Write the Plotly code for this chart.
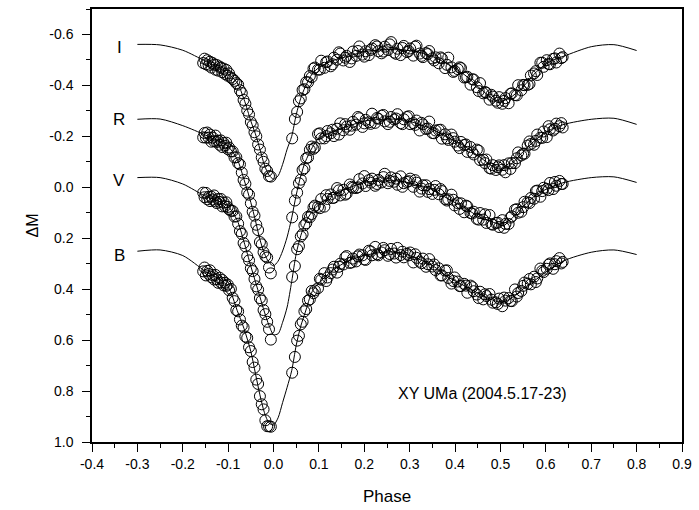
import plotly.graph_objects as go

# ---------------------------------------------------------------------------
# Data (phase vs. differential magnitude)
# ---------------------------------------------------------------------------

# model light-curve phases and fitted magnitudes
model_phase = [-0.30, -0.25, -0.20, -0.15, -0.12, -0.10, -0.08, -0.065, -0.05, -0.04,
               -0.03, -0.02, -0.01, 0.0, 0.01, 0.02, 0.03, 0.04, 0.05, 0.06,
               0.07, 0.085, 0.10, 0.13, 0.165, 0.20, 0.24, 0.275, 0.31, 0.35,
               0.385, 0.42, 0.455, 0.485, 0.50, 0.52, 0.55, 0.58, 0.61, 0.64,
               0.70, 0.75, 0.80]
model_I = [-0.561, -0.559, -0.538, -0.495, -0.468, -0.445, -0.41, -0.345, -0.26, -0.21,
           -0.15, -0.087, -0.048, -0.032, -0.045, -0.09, -0.15, -0.2, -0.285, -0.35,
           -0.395, -0.445, -0.47, -0.497, -0.515, -0.532, -0.54, -0.54, -0.534, -0.514,
           -0.482, -0.443, -0.388, -0.345, -0.338, -0.35, -0.395, -0.455, -0.495, -0.515,
           -0.552, -0.56, -0.537]
model_R = [-0.267, -0.268, -0.242, -0.205, -0.18, -0.16, -0.11, -0.03, 0.06, 0.13,
           0.205, 0.26, 0.295, 0.308, 0.29, 0.25, 0.195, 0.12, 0.03, -0.045,
           -0.10, -0.155, -0.193, -0.217, -0.24, -0.26, -0.267, -0.267, -0.254, -0.227,
           -0.195, -0.163, -0.118, -0.08, -0.071, -0.085, -0.14, -0.19, -0.226, -0.247,
           -0.267, -0.271, -0.247]
model_V = [-0.038, -0.038, -0.013, 0.035, 0.055, 0.075, 0.13, 0.215, 0.31, 0.37,
           0.43, 0.49, 0.542, 0.578, 0.575, 0.53, 0.47, 0.37, 0.26, 0.19,
           0.14, 0.095, 0.068, 0.03, 0.003, -0.019, -0.025, -0.025, -0.013, 0.008,
           0.046, 0.079, 0.118, 0.138, 0.145, 0.13, 0.075, 0.028, 0.0, -0.019,
           -0.038, -0.041, -0.019]
model_B = [0.251, 0.246, 0.268, 0.33, 0.36, 0.39, 0.484, 0.555, 0.645, 0.73,
           0.815, 0.885, 0.925, 0.933, 0.905, 0.845, 0.785, 0.72, 0.62, 0.545,
           0.49, 0.41, 0.375, 0.327, 0.288, 0.268, 0.255, 0.255, 0.275, 0.307,
           0.353, 0.386, 0.42, 0.444, 0.451, 0.44, 0.399, 0.36, 0.32, 0.288,
           0.255, 0.246, 0.264]

# observed phases, first set (shared by the four bands)
obs_phase = [-0.155, -0.152, -0.149, -0.146, -0.143, -0.140, -0.137, -0.134, -0.131, -0.128,
             -0.125, -0.122, -0.119, -0.116, -0.113, -0.110, -0.107, -0.104, -0.101, -0.098,
             -0.094, -0.090, -0.086, -0.082, -0.078, -0.074, -0.070, -0.066, -0.062, -0.058,
             -0.054, -0.050, -0.046, -0.042, -0.038, -0.034, -0.030, -0.026, -0.022, -0.018,
             -0.014, -0.010, -0.006,
             0.041, 0.047, 0.052, 0.056, 0.060, 0.064, 0.068, 0.072, 0.076, 0.080,
             0.084, 0.091, 0.098, 0.105, 0.112, 0.119, 0.126, 0.133, 0.140, 0.147,
             0.154, 0.161, 0.168, 0.175, 0.182, 0.189, 0.196, 0.203, 0.210, 0.217,
             0.224, 0.231, 0.238, 0.245, 0.252, 0.259, 0.266, 0.273, 0.280, 0.287,
             0.294, 0.301, 0.308, 0.315, 0.322, 0.329, 0.336, 0.343, 0.350, 0.357,
             0.364, 0.371, 0.378, 0.385, 0.392, 0.399, 0.406, 0.413, 0.420, 0.427,
             0.434, 0.441, 0.448, 0.455, 0.462, 0.469, 0.476, 0.483, 0.490, 0.497,
             0.504, 0.511, 0.518, 0.525, 0.532, 0.539, 0.546, 0.553, 0.560, 0.567,
             0.574, 0.581, 0.588, 0.595, 0.602, 0.609, 0.616, 0.623, 0.630, 0.637]

obs_I = [-0.488, -0.505, -0.483, -0.499, -0.478, -0.493, -0.470, -0.488, -0.481, -0.462,
         -0.480, -0.458, -0.474, -0.469, -0.452, -0.466, -0.445, -0.461, -0.438, -0.447,
         -0.431, -0.425, -0.418, -0.409, -0.403, -0.381, -0.370, -0.343, -0.328, -0.301,
         -0.286, -0.256, -0.243, -0.216, -0.200, -0.168, -0.148, -0.117, -0.100, -0.073,
         -0.064, -0.044, -0.042,
         -0.192, -0.268, -0.296, -0.338, -0.349, -0.382, -0.385, -0.413, -0.412, -0.437,
         -0.432, -0.470, -0.462, -0.497, -0.469, -0.494, -0.475, -0.509, -0.501, -0.525,
         -0.498, -0.516, -0.492, -0.533, -0.516, -0.553, -0.521, -0.534, -0.519, -0.545,
         -0.558, -0.534, -0.526, -0.552, -0.539, -0.570, -0.529, -0.544, -0.519, -0.555,
         -0.531, -0.545, -0.517, -0.556, -0.525, -0.511, -0.527, -0.535, -0.506, -0.510,
         -0.487, -0.506, -0.468, -0.509, -0.471, -0.457, -0.464, -0.468, -0.431, -0.434,
         -0.403, -0.423, -0.393, -0.409, -0.369, -0.371, -0.344, -0.356, -0.340, -0.354,
         -0.328, -0.350, -0.330, -0.369, -0.362, -0.401, -0.381, -0.401, -0.402, -0.439,
         -0.447, -0.441, -0.489, -0.473, -0.499, -0.483, -0.504, -0.490, -0.525, -0.511]

obs_R = [-0.196, -0.213, -0.195, -0.215, -0.195, -0.207, -0.179, -0.195, -0.181, -0.203,
         -0.178, -0.183, -0.167, -0.184, -0.158, -0.174, -0.163, -0.175, -0.150, -0.156,
         -0.141, -0.141, -0.117, -0.118, -0.095, -0.090, -0.058, -0.029, -0.014, 0.021,
         0.029, 0.063, 0.096, 0.111, 0.147, 0.168, 0.215, 0.224, 0.255, 0.270,
         0.276, 0.315, 0.338,
         0.118, 0.052, 0.021, -0.016, -0.030, -0.068, -0.075, -0.114, -0.117, -0.147,
         -0.160, -0.156, -0.209, -0.192, -0.192, -0.221, -0.212, -0.201, -0.230, -0.251,
         -0.224, -0.238, -0.226, -0.257, -0.246, -0.271, -0.237, -0.265, -0.255, -0.289,
         -0.253, -0.269, -0.281, -0.259, -0.248, -0.276, -0.266, -0.287, -0.252, -0.267,
         -0.276, -0.248, -0.252, -0.262, -0.223, -0.247, -0.229, -0.258, -0.213, -0.223,
         -0.225, -0.191, -0.208, -0.186, -0.207, -0.179, -0.164, -0.178, -0.166, -0.139,
         -0.158, -0.129, -0.148, -0.107, -0.108, -0.109, -0.075, -0.087, -0.068, -0.086,
         -0.069, -0.059, -0.094, -0.095, -0.095, -0.137, -0.125, -0.132, -0.164, -0.170,
         -0.167, -0.207, -0.195, -0.219, -0.197, -0.228, -0.223, -0.250, -0.240, -0.235]

obs_V = [0.021, 0.039, 0.022, 0.047, 0.037, 0.054, 0.037, 0.048, 0.032, 0.055,
         0.062, 0.046, 0.057, 0.046, 0.075, 0.060, 0.074, 0.059, 0.077, 0.087,
         0.092, 0.093, 0.115, 0.114, 0.143, 0.172, 0.183, 0.219, 0.232, 0.271,
         0.287, 0.318, 0.329, 0.360, 0.389, 0.402, 0.435, 0.445, 0.482, 0.498,
         0.528, 0.557, 0.598,
         0.352, 0.309, 0.243, 0.231, 0.193, 0.184, 0.149, 0.141, 0.116, 0.118,
         0.105, 0.072, 0.077, 0.046, 0.076, 0.046, 0.028, 0.041, 0.003, 0.032,
         0.010, 0.025, -0.011, 0.002, 0.003, -0.032, -0.015, -0.005, -0.028, -0.034,
         -0.006, -0.029, -0.019, -0.053, -0.016, -0.039, -0.022, -0.010, -0.043, -0.016,
         -0.021, -0.034, -0.002, -0.018, 0.017, -0.008, -0.008, 0.007, 0.026, -0.005,
         0.027, 0.015, 0.046, 0.047, 0.029, 0.071, 0.062, 0.063, 0.098, 0.075,
         0.101, 0.096, 0.124, 0.101, 0.127, 0.140, 0.109, 0.147, 0.140, 0.156,
         0.129, 0.144, 0.144, 0.114, 0.088, 0.100, 0.096, 0.057, 0.059, 0.042,
         0.045, 0.013, 0.037, 0.002, 0.006, -0.017, 0.007, -0.006, -0.025, -0.013]

obs_B = [0.330, 0.315, 0.346, 0.328, 0.340, 0.326, 0.353, 0.345, 0.362, 0.344,
         0.361, 0.375, 0.355, 0.374, 0.364, 0.385, 0.375, 0.387, 0.382, 0.404,
         0.399, 0.434, 0.447, 0.482, 0.487, 0.519, 0.543, 0.550, 0.586, 0.591,
         0.628, 0.643, 0.686, 0.708, 0.755, 0.772, 0.820, 0.852, 0.872, 0.915,
         0.938, 0.938, 0.940,
         0.728, 0.666, 0.602, 0.583, 0.538, 0.528, 0.487, 0.478, 0.445, 0.440,
         0.407, 0.405, 0.396, 0.363, 0.337, 0.354, 0.337, 0.312, 0.335, 0.300,
         0.303, 0.270, 0.297, 0.280, 0.291, 0.264, 0.267, 0.285, 0.249, 0.267,
         0.234, 0.267, 0.256, 0.247, 0.269, 0.242, 0.260, 0.238, 0.266, 0.275,
         0.261, 0.256, 0.295, 0.277, 0.292, 0.280, 0.312, 0.282, 0.311, 0.325,
         0.318, 0.346, 0.327, 0.356, 0.378, 0.354, 0.370, 0.388, 0.379, 0.414,
         0.386, 0.408, 0.421, 0.410, 0.440, 0.427, 0.419, 0.453, 0.452, 0.437,
         0.467, 0.445, 0.435, 0.447, 0.401, 0.415, 0.407, 0.374, 0.379, 0.381,
         0.351, 0.358, 0.319, 0.333, 0.320, 0.299, 0.320, 0.290, 0.278, 0.293]

# second set of observed phases (out-of-eclipse part only)
obs_phase2 = [0.088, 0.102, 0.116, 0.130, 0.144, 0.158, 0.172, 0.186, 0.200, 0.214,
              0.228, 0.242, 0.256, 0.270, 0.284, 0.298, 0.312, 0.326, 0.340, 0.354,
              0.368, 0.382, 0.396, 0.410, 0.424, 0.438, 0.452, 0.466, 0.480, 0.494,
              0.508, 0.522, 0.536, 0.550, 0.564, 0.578, 0.592, 0.606, 0.620, 0.634]
obs_I2 = [-0.466, -0.462, -0.491, -0.483, -0.530, -0.509, -0.506, -0.535, -0.513, -0.539,
          -0.553, -0.533, -0.561, -0.524, -0.547, -0.535, -0.552, -0.516, -0.523, -0.498,
          -0.510, -0.481, -0.453, -0.471, -0.432, -0.424, -0.378, -0.374, -0.363, -0.332,
          -0.339, -0.367, -0.361, -0.402, -0.406, -0.456, -0.489, -0.484, -0.506, -0.507]
obs_R2 = [-0.151, -0.212, -0.201, -0.226, -0.207, -0.248, -0.242, -0.276, -0.251, -0.249,
          -0.272, -0.284, -0.257, -0.270, -0.248, -0.279, -0.245, -0.253, -0.231, -0.212,
          -0.226, -0.192, -0.193, -0.154, -0.168, -0.137, -0.144, -0.095, -0.073, -0.079,
          -0.087, -0.072, -0.114, -0.132, -0.180, -0.182, -0.194, -0.240, -0.230, -0.252]
obs_V2 = [0.079, 0.082, 0.031, 0.042, 0.012, 0.029, -0.002, 0.000, -0.044, -0.018,
          -0.013, -0.040, -0.025, -0.034, -0.002, -0.024, -0.028, 0.005, 0.018, 0.010,
          0.007, 0.052, 0.049, 0.085, 0.072, 0.103, 0.127, 0.106, 0.144, 0.139,
          0.159, 0.119, 0.086, 0.078, 0.062, 0.015, 0.015, 0.011, -0.021, -0.013]
obs_B2 = [0.416, 0.359, 0.368, 0.323, 0.312, 0.275, 0.295, 0.271, 0.283, 0.252,
          0.263, 0.238, 0.262, 0.276, 0.253, 0.267, 0.263, 0.298, 0.302, 0.303,
          0.346, 0.326, 0.368, 0.388, 0.386, 0.392, 0.435, 0.420, 0.441, 0.458,
          0.433, 0.446, 0.429, 0.387, 0.360, 0.372, 0.328, 0.304, 0.302, 0.299]

band_names = ["I", "R", "V", "B"]
band_label_y = [-0.55, -0.265, -0.025, 0.268]

x_ticks = [-0.4, -0.3, -0.2, -0.1, 0.0, 0.1, 0.2, 0.3, 0.4, 0.5, 0.6, 0.7, 0.8, 0.9]
y_ticks = [-0.6, -0.4, -0.2, 0.0, 0.2, 0.4, 0.6, 0.8, 1.0]

FONT = "Liberation Sans, Arial, sans-serif"

fig = go.Figure()

bands = [
    (obs_I, obs_I2, model_I),
    (obs_R, obs_R2, model_R),
    (obs_V, obs_V2, model_V),
    (obs_B, obs_B2, model_B),
]
for obs, obs2, model in bands:
    fig.add_trace(go.Scatter(
        x=obs_phase + obs_phase2, y=obs + obs2, mode="markers",
        marker=dict(symbol="circle-open", size=11, color="black", line=dict(width=1, color="black")),
        showlegend=False, hoverinfo="skip",
    ))
    fig.add_trace(go.Scatter(
        x=model_phase, y=model, mode="lines",
        line=dict(color="black", width=1, shape="spline", smoothing=0.8),
        showlegend=False, hoverinfo="skip",
    ))

# band labels
for name, yv in zip(band_names, band_label_y):
    fig.add_annotation(x=-0.34, y=yv, text=name, showarrow=False,
                       font=dict(family=FONT, size=17, color="black"))

fig.add_annotation(x=0.46, y=0.81, text="XY UMa (2004.5.17-23)", showarrow=False,
                   font=dict(family=FONT, size=16, color="black"))

axis_common = dict(
    showline=True, linecolor="black", linewidth=1.5, mirror=True,
    ticks="outside", ticklen=8, tickwidth=1.2, tickcolor="black",
    showgrid=False, zeroline=False,
    tickfont=dict(family=FONT, size=14, color="black"),
)

fig.update_xaxes(
    range=[-0.4, 0.9],
    tickvals=x_ticks, ticktext=[f"{v:.1f}".replace("-0.0", "0.0") for v in x_ticks],
    minor=dict(dtick=0.05, tick0=0, ticks="outside", ticklen=4, tickcolor="black", tickwidth=1.2),
    title=dict(text="Phase", font=dict(family=FONT, size=17, color="black"), standoff=20),
    **axis_common,
)
fig.update_yaxes(
    range=[1.0, -0.7],
    tickvals=y_ticks, ticktext=[f"{v:.1f}" for v in y_ticks],
    ticklabelstandoff=6,
    minor=dict(dtick=0.1, tick0=0, ticks="outside", ticklen=4, tickcolor="black", tickwidth=1.2),
    title=dict(text="ΔM", font=dict(family=FONT, size=16, color="black"), standoff=7),
    **axis_common,
)

fig.update_layout(
    width=699, height=510,
    margin=dict(l=92, r=13, t=7, b=68),
    plot_bgcolor="white", paper_bgcolor="white",
)

# the page's default body margin would shift the chart; remove it
fig.write_html(
    "out.html",
    config={"displayModeBar": False},
    post_script="document.body.style.margin='0';",
)
